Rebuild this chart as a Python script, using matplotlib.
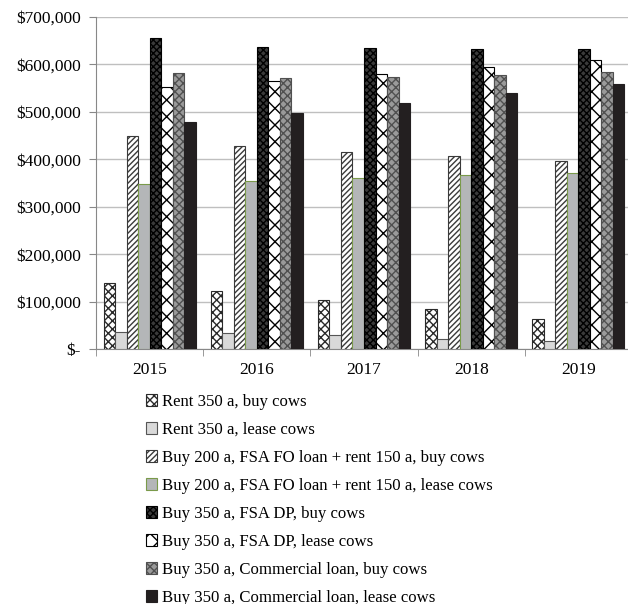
import matplotlib
matplotlib.use("Agg")
import matplotlib.pyplot as plt
import numpy as np
from matplotlib.ticker import FuncFormatter, FixedLocator

plt.rcParams['font.family'] = ['Liberation Serif', 'DejaVu Serif']
plt.rcParams['hatch.linewidth'] = 1.0

years = ['2015', '2016', '2017', '2018', '2019']
labels = [
    'Rent 350 a, buy cows',
    'Rent 350 a, lease cows',
    'Buy 200 a, FSA FO loan + rent 150 a, buy cows',
    'Buy 200 a, FSA FO loan + rent 150 a, lease cows',
    'Buy 350 a, FSA DP, buy cows',
    'Buy 350 a, FSA DP, lease cows',
    'Buy 350 a, Commercial loan, buy cows',
    'Buy 350 a, Commercial loan, lease cows',
]
rent_buy = [140000, 122000, 103000, 84000, 64000]
rent_lease = [35000, 33000, 29000, 22000, 16000]
fo_buy = [450000, 428000, 416000, 406000, 397000]
fo_lease = [347000, 354000, 361000, 367000, 372000]
dp_buy = [655000, 636000, 634000, 632000, 633000]
dp_lease = [552000, 566000, 580000, 594000, 609000]
com_buy = [582000, 571000, 574000, 577000, 584000]
com_lease = [479000, 498000, 519000, 539000, 559000]
series = [rent_buy, rent_lease, fo_buy, fo_lease, dp_buy, dp_lease, com_buy, com_lease]

# face, edge(hatch), hatch
styles = [
    ('white', '#2a2a2a', 'xxxx'),
    ('#d9d9d9', '#555555', None),
    ('white', '#3a3a3a', '//////'),
    ('#b4b6b8', '#7a9a4a', None),
    ('#3a3a3a', 'black', 'xxxxx'),
    ('white', 'black', 'xx'),
    ('#9a9a9a', '#505050', 'xxxx'),
    ('#231f20', '#231f20', None),
]

fig = plt.figure(figsize=(6.28, 6.04), dpi=100)
ax = fig.add_axes([96/628, 1 - 349/604, (632-96)/628, (349-17)/604])

x = np.arange(len(years))
w = 0.1075
for i, (vals, lab, st) in enumerate(zip(series, labels, styles)):
    fc, ec, h = st
    ax.bar(x + (i - 3.5) * w, vals, w, color=fc, edgecolor=ec, hatch=h,
           linewidth=0.8, label=lab, zorder=3)

ax.set_xlim(-0.5, 4.5)
ax.set_ylim(0, 700000)
ax.set_yticks(np.arange(0, 700001, 100000))
ax.yaxis.set_major_formatter(FuncFormatter(lambda v, p: '$-' if v == 0 else '${:,.0f}'.format(v)))
ax.set_xticks(x)
ax.set_xticklabels(years)
ax.xaxis.set_minor_locator(FixedLocator(np.arange(-0.5, 5, 1)))
ax.tick_params(axis='x', which='major', length=0, pad=9, labelsize=12.5)
ax.tick_params(axis='x', which='minor', length=5, color='#888888')
ax.tick_params(axis='y', length=5, color='#888888', labelsize=12.5, pad=6)
ax.grid(axis='y', color='#bfbfbf', linewidth=1, zorder=0)
for s in ['top', 'right']:
    ax.spines[s].set_visible(False)
for s in ['left', 'bottom']:
    ax.spines[s].set_color('#888888')

fig.legend(loc='upper left', bbox_to_anchor=(146/628, 1 - 394/604), frameon=False,
           ncol=1, fontsize=12.1, handlelength=0.65, handleheight=0.7,
           handletextpad=0.3, labelspacing=0.71, borderaxespad=0, borderpad=0)

fig.savefig('out.png', dpi=100)
